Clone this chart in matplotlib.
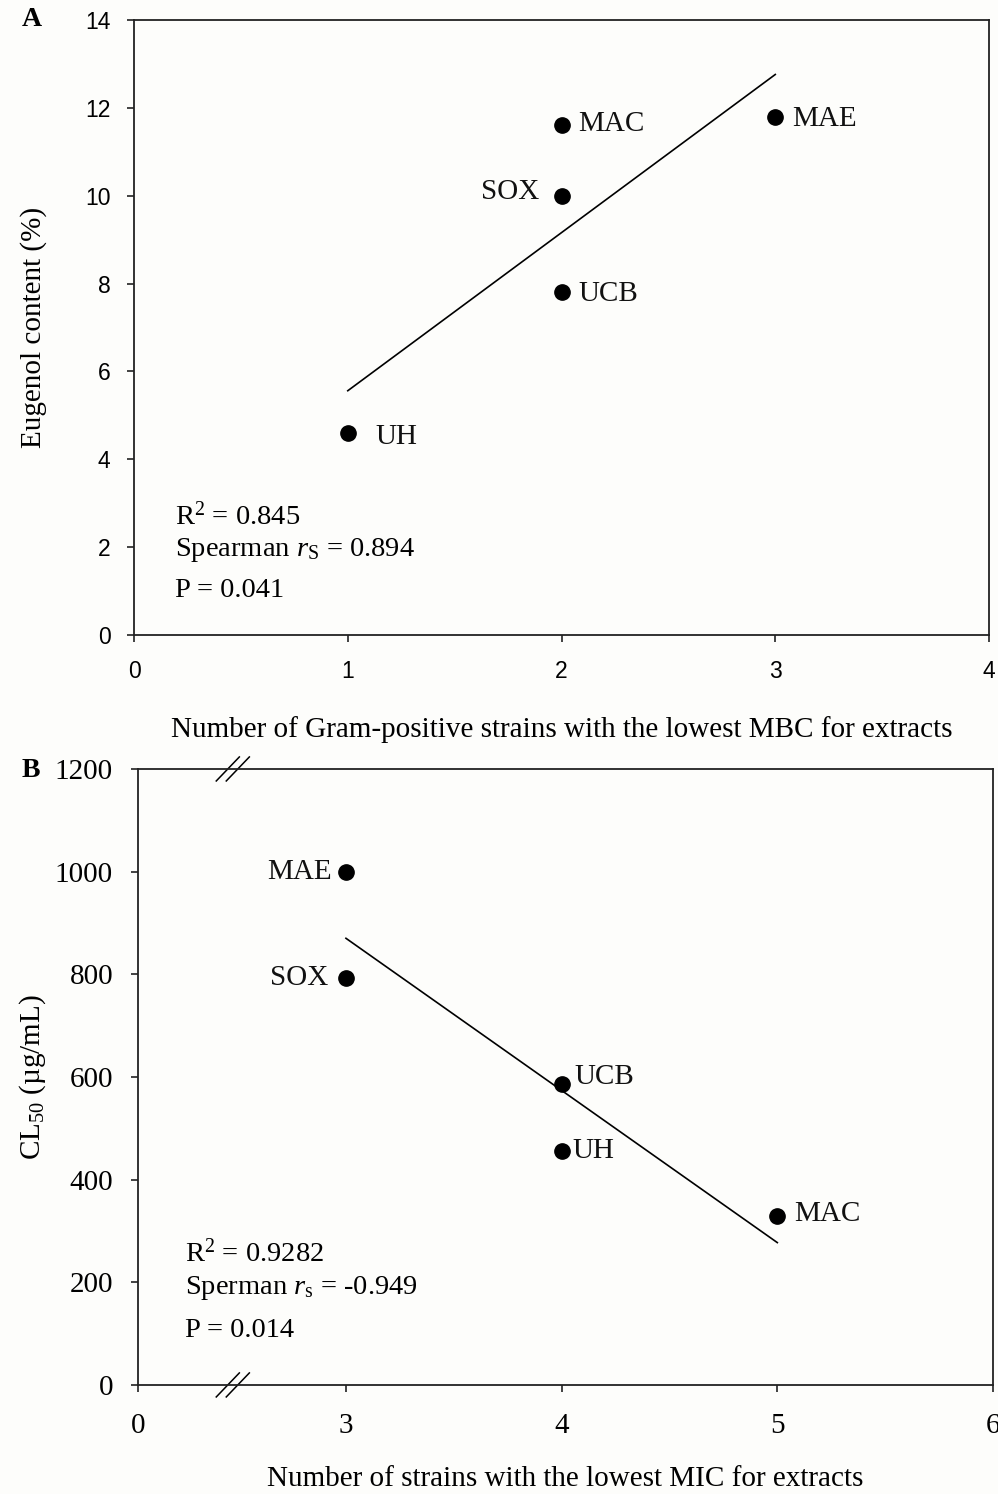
import numpy as np
import matplotlib
matplotlib.use("Agg")
import matplotlib.pyplot as plt

plt.rcParams["mathtext.fontset"] = "custom"
plt.rcParams["mathtext.rm"] = "Liberation Serif"
plt.rcParams["mathtext.it"] = "Liberation Serif:italic"

# panel A: Gram-positive strains (lowest MBC) vs eugenol content
a_names = ["UH", "UCB", "SOX", "MAC", "MAE"]
a_strains = [1, 2, 2, 2, 3]
a_eugenol = [4.6, 7.8, 10.0, 11.6, 11.8]
a_offsets = [(20, -3), (12, -1), (-16, 3), (12, 1), (12, -2)]

# panel B: strains with lowest MIC vs CL50
b_names = ["MAE", "SOX", "UCB", "UH", "MAC"]
b_strains = [3, 3, 4, 4, 5]
b_cl50 = [1000, 793, 587, 455, 330]
b_offsets = [(-10, 0), (-13, 0), (9, 5), (8, 0), (12, 1)]

SERIF = "Liberation Serif"
SANS = "Liberation Sans"
bg = "#fdfdfb"

fig = plt.figure(figsize=(9.98, 14.94), dpi=100, facecolor=bg)
axA = fig.add_axes([0.1343, 0.5750, 0.8567, 0.4116], facecolor=bg)
axB = fig.add_axes([0.1383, 0.0730, 0.8567, 0.4123], facecolor=bg)

for ax in (axA, axB):
    for s in ax.spines.values():
        s.set_linewidth(1.3)
        s.set_color("#222222")
    ax.tick_params(direction="out", length=5, width=1.2, color="#222222")


def draw(ax, x, y, names, offs):
    ax.plot(x, y, "o", color="black", markersize=11, zorder=3)
    k, b = np.polyfit(x, y, 1)
    xs = np.array([min(x), max(x)])
    ax.plot(xs, k * xs + b, color="black", lw=1.2)
    for xi, yi, n, (dx, dy) in zip(x, y, names, offs):
        ax.annotate(n, (xi, yi), xytext=(dx, dy), textcoords="offset points",
                    ha="left" if dx > 0 else "right", va="center",
                    fontsize=21, family=SERIF, color="#111111")


# ---- A ----
draw(axA, a_strains, a_eugenol, a_names, a_offsets)
axA.set_xlim(0, 4)
axA.set_ylim(0, 14)
axA.set_xticks(range(0, 5))
axA.set_yticks(range(0, 15, 2))
for lab in axA.get_xticklabels() + axA.get_yticklabels():
    lab.set_family(SANS)
    lab.set_fontsize(16.5)
axA.tick_params(axis="x", pad=13)
axA.tick_params(axis="y", pad=12)
axA.set_xlabel("Number of Gram-positive strains with the lowest MBC for extracts",
               family=SERIF, fontsize=21, labelpad=24)
axA.set_ylabel("Eugenol content (%)", family=SERIF, fontsize=21, labelpad=27)
statsA = ["R$^2$ = 0.845", "Spearman $r_\\mathrm{S}$ = 0.894", "P = 0.041"]
for txt, yy in zip(statsA, [2.69, 1.93, 1.02]):
    axA.text(0.19, yy, txt, family=SERIF, fontsize=20.5, va="center")
fig.text(0.022, 0.987, "A", family=SERIF, fontsize=20, weight="bold", va="center")

# ---- B ----
draw(axB, b_strains, b_cl50, b_names, b_offsets)
x0 = 2.036
axB.set_xlim(x0, 6)
axB.set_ylim(0, 1200)
axB.set_xticks([x0, 3, 4, 5, 6])
axB.set_xticklabels(["0", "3", "4", "5", "6"])
axB.set_yticks(range(0, 1201, 200))
for lab in axB.get_xticklabels() + axB.get_yticklabels():
    lab.set_family(SERIF)
    lab.set_fontsize(21)
axB.tick_params(axis="x", pad=15)
axB.tick_params(axis="y", pad=13)
axB.set_xlabel("Number of strains with the lowest MIC for extracts",
               family=SERIF, fontsize=21, labelpad=20)
axB.set_ylabel("CL$_{50}$ (µg/mL)", family=SERIF, fontsize=21, labelpad=5)
statsB = ["R$^2$ = 0.9282", "Sperman $r_\\mathrm{s}$ = -0.949", "P = 0.014"]
for txt, yy in zip(statsB, [257, 189, 107]):
    axB.text(2.254, yy, txt, family=SERIF, fontsize=20.5, va="center")
fig.text(0.022, 0.4845, "B", family=SERIF, fontsize=20, weight="bold", va="center")

# axis break marks on top and bottom spines
bx, dx, dy, gap = 0.105, 0.0135, 0.0195, 0.0117
for yb in (0, 1):
    for off in (0, gap):
        axB.plot([bx + off - dx, bx + off + dx], [yb - dy, yb + dy],
                 transform=axB.transAxes, color="black", lw=1.1, clip_on=False)

fig.savefig("out.png", dpi=100, facecolor=bg)
